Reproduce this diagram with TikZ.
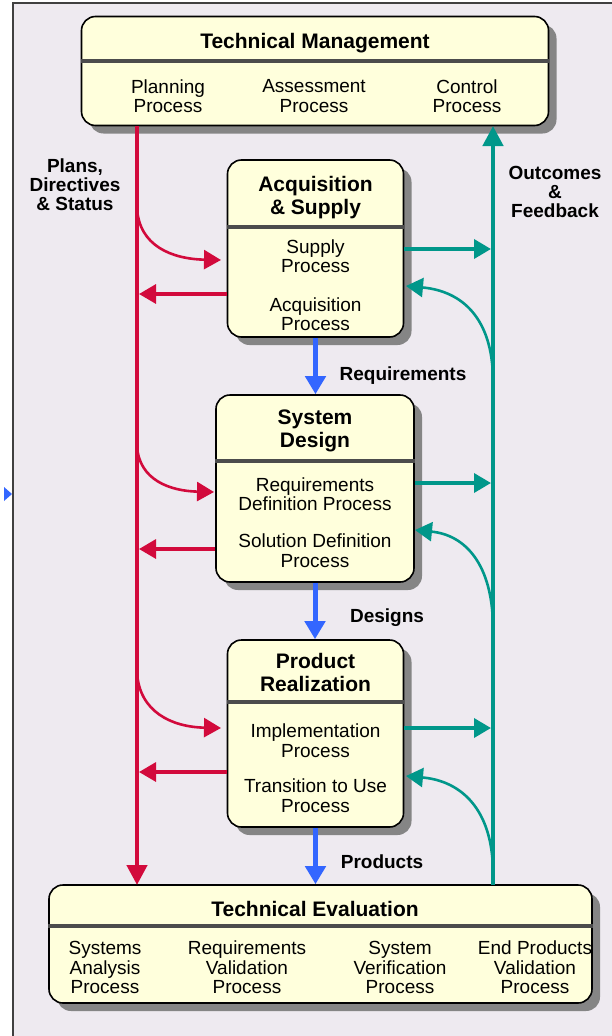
\documentclass[tikz,border=0pt]{standalone}
\usepackage{fontspec}
\setmainfont{Liberation Sans}
\usetikzlibrary{arrows.meta,shadows}
\definecolor{bg}{HTML}{EEEAF0}
\definecolor{boxfill}{HTML}{FFFFDC}
\definecolor{redl}{HTML}{D20A3C}
\definecolor{teall}{HTML}{00978A}
\definecolor{bluel}{HTML}{3366FF}
\definecolor{shadowc}{HTML}{858585}
\begin{document}
\begin{tikzpicture}[x=1pt,y=-1pt,
  box/.style={draw=black, line width=1.6pt, fill=boxfill, rounded corners=14pt, inner sep=0pt,
    drop shadow={shadow xshift=8pt, shadow yshift=-8pt, fill=shadowc, opacity=1}},
  sepline/.style={draw=black!70, line width=4pt},
  ttl/.style={font=\bfseries\fontsize{21}{23}\selectfont, align=center, inner sep=0pt},
  txt/.style={font=\fontsize{19}{19.5}\selectfont, align=center, inner sep=0pt},
  lbl/.style={font=\bfseries\fontsize{19}{19}\selectfont, align=center, inner sep=0pt},
  redv/.style={draw=redl, line width=4.5pt, -{Triangle[length=20pt,width=20pt]}},
  redc/.style={draw=redl, line width=2.6pt, -{Triangle[length=17pt,width=19pt]}},
  redh/.style={draw=redl, line width=3.2pt, -{Triangle[length=17pt,width=19pt]}},
  tealv/.style={draw=teall, line width=4.5pt, -{Triangle[length=20pt,width=20pt]}},
  tealc/.style={draw=teall, line width=2.6pt, -{Triangle[length=17pt,width=19pt]}},
  tealh/.style={draw=teall, line width=3.6pt, -{Triangle[length=17pt,width=19pt]}},
  bluea/.style={draw=bluel, line width=5pt, -{Triangle[length=18pt,width=20pt]}}
]
\useasboundingbox (0,0) rectangle (612,1036);
% background and frame
\fill[white] (0,0) rectangle (612,1036);
\fill[bg] (13,3) rectangle (612,1036);
\draw[line width=2pt, black!75] (13,1036) -- (13,3) -- (612,3);
\fill[bluel] (4,487) -- (12,494) -- (4,501) -- cycle;

% Technical Management
\node[box, minimum width=467pt, minimum height=109pt] (tm) at (315,71) {};
\draw[sepline] ([yshift=-45pt]tm.north west) -- ([yshift=-45pt]tm.north east);
\node[ttl] (tmt) at (315,43) {Technical Management};
\node[txt] (tm1) at (168,96) {Planning\\Process};
\node[txt] (tm2) at (314,96) {Assessment\\Process};
\node[txt] (tm3) at (467,96) {Control\\Process};

% Acquisition & Supply
\node[box, minimum width=176pt, minimum height=177pt] (as) at (315.5,248.5) {};
\draw[sepline] ([yshift=-68pt]as.north west) -- ([yshift=-68pt]as.north east);
\node[ttl] (ast) at (315.5,198) {Acquisition\\\& Supply};
\node[txt] (as1) at (315.5,256) {Supply\\Process};
\node[txt] (as2) at (315.5,314) {Acquisition\\Process};

% System Design
\node[box, minimum width=198pt, minimum height=187pt] (sd) at (315,488.5) {};
\draw[sepline] ([yshift=-67pt]sd.north west) -- ([yshift=-67pt]sd.north east);
\node[ttl] (sdt) at (315,431) {System\\Design};
\node[txt] (sd1) at (315,494) {Requirements\\Definition Process};
\node[txt] (sd2) at (315,550.5) {Solution Definition\\Process};

% Product Realization
\node[box, minimum width=176pt, minimum height=187pt] (pr) at (315.5,733.5) {};
\draw[sepline] ([yshift=-63pt]pr.north west) -- ([yshift=-63pt]pr.north east);
\node[ttl] (prt) at (315.5,672.5) {Product\\Realization};
\node[txt] (pr1) at (315.5,740.5) {Implementation\\Process};
\node[txt] (pr2) at (315.5,795.5) {Transition to Use\\Process};

% Technical Evaluation
\node[box, minimum width=543pt, minimum height=118pt] (te) at (320.5,944) {};
\draw[sepline] ([yshift=-42pt]te.north west) -- ([yshift=-42pt]te.north east);
\node[ttl] (tet) at (315,909) {Technical Evaluation};
\node[txt] (te1) at (105,967.5) {Systems\\Analysis\\Process};
\node[txt] (te2) at (247,967.5) {Requirements\\Validation\\Process};
\node[txt] (te3) at (400,967.5) {System\\Verification\\Process};
\node[txt] (te4) at (535,967.5) {End Products\\Validation\\Process};

% labels
\node[lbl] (lplans) at (75,185) {Plans,\\Directives\\\& Status};
\node[lbl] (lout) at (555,192) {Outcomes\\\&\\Feedback};
\node[lbl] (lreq) at (403,376) {Requirements};
\node[lbl] (ldes) at (387,618) {Designs};
\node[lbl] (lprod) at (382,862) {Products};

% coordinates on the trunk lines
\coordinate (rtop) at (137,126);
\coordinate (rbot) at (137,885);
\coordinate (ttop) at (493,126);
\coordinate (tbot) at (493,885);

% main vertical lines
\draw[redv] (rtop) -- (rbot);
\draw[tealv] (tbot) -- (ttop);

% Acquisition & Supply connectors
\coordinate (r1s) at (137,208);
\coordinate (r1e) at (221,260);
\coordinate (r1h) at (139,294);
\coordinate (t1h) at (491,249);
\coordinate (t1s) at (493,378);
\coordinate (t1e) at (406,286);
\draw[redc] (r1s) .. controls (139,246) and (172,259) .. (r1e);
\draw[redh] (as.west |- r1h) -- (r1h);
\draw[tealh] (as.east |- t1h) -- (t1h);
\draw[tealc] (t1s) .. controls (492,318) and (462,291) .. (t1e);

% System Design connectors
\coordinate (r2s) at (137,446);
\coordinate (r2e) at (214,492);
\coordinate (r2h) at (139,549);
\coordinate (t2h) at (491,483);
\coordinate (t2s) at (493,625);
\coordinate (t2e) at (415,530);
\draw[redc] (r2s) .. controls (139,480) and (170,491) .. (r2e);
\draw[redh] (sd.west |- r2h) -- (r2h);
\draw[tealh] (sd.east |- t2h) -- (t2h);
\draw[tealc] (t2s) .. controls (492,565) and (466,535) .. (t2e);

% Product Realization connectors
\coordinate (r3s) at (137,672);
\coordinate (r3e) at (221,728);
\coordinate (r3h) at (139,772);
\coordinate (t3h) at (491,728);
\coordinate (t3s) at (493,870);
\coordinate (t3e) at (406,776);
\draw[redc] (r3s) .. controls (139,712) and (172,727) .. (r3e);
\draw[redh] (pr.west |- r3h) -- (r3h);
\draw[tealh] (pr.east |- t3h) -- (t3h);
\draw[tealc] (t3s) .. controls (492,810) and (462,781) .. (t3e);

% blue flow arrows
\draw[bluea] (as.south) -- (as.south |- sd.north);
\draw[bluea] (sd.south) -- (sd.south |- pr.north);
\draw[bluea] (pr.south) -- (pr.south |- te.north);
\end{tikzpicture}
\end{document}
